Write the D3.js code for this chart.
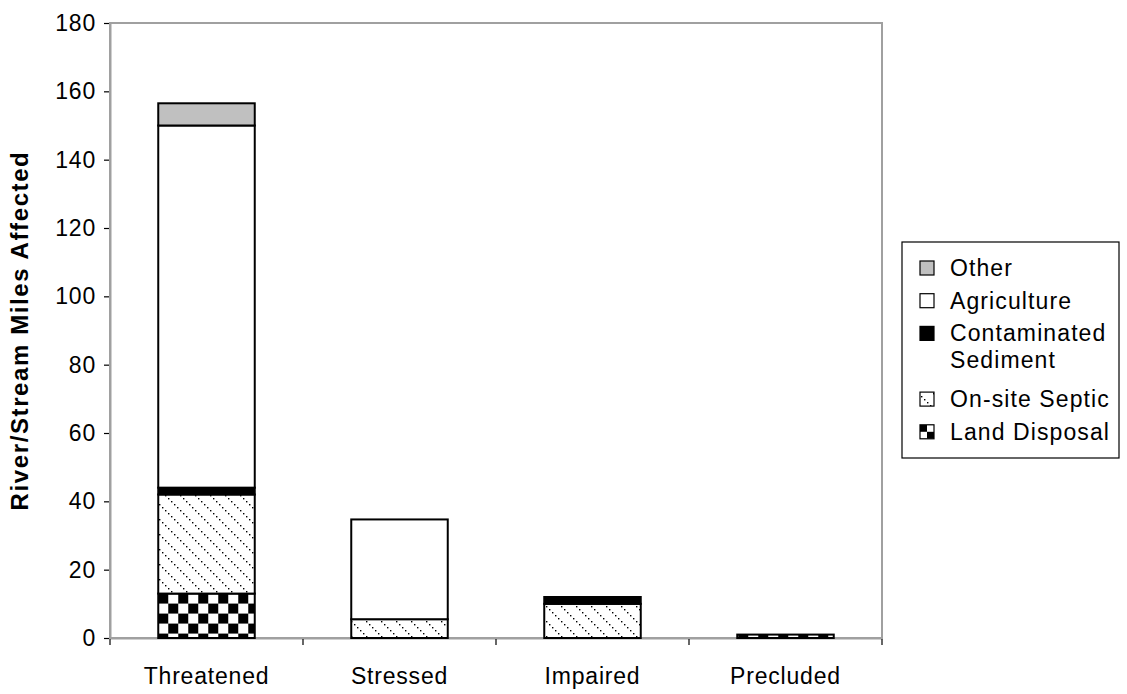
<!DOCTYPE html>
<html><head><meta charset="utf-8">
<script src="https://cdn.jsdelivr.net/npm/d3@7"></script>
<style>body{margin:0;background:#fff} text{font-family:"Liberation Sans",Arial,sans-serif;fill:#000}</style>
</head><body><svg id="c" width="1127" height="694"></svg>
<script>
const categories = ["Threatened", "Stressed", "Impaired", "Precluded"];
const landDisposal = [13, 0, 0, 1];
const onsiteSeptic = [29, 5.5, 10, 0];
const contaminatedSediment = [2, 0, 2, 0];
const agriculture = [106, 29.2, 0, 0];
const other = [6.5, 0, 0, 0];
const yTicks = [0, 20, 40, 60, 80, 100, 120, 140, 160, 180];
const seriesKeys = ["Land Disposal", "On-site Septic", "Contaminated Sediment", "Agriculture", "Other"];
const seriesValues = [landDisposal, onsiteSeptic, contaminatedSediment, agriculture, other];
const legendLabels = {"Other": ["Other"], "Agriculture": ["Agriculture"], "Contaminated Sediment": ["Contaminated", "Sediment"], "On-site Septic": ["On-site Septic"], "Land Disposal": ["Land Disposal"]};
const yTitle = "River/Stream Miles Affected";

const table = categories.map((c, i) => {
  const r = {category: c};
  seriesKeys.forEach((k, j) => r[k] = seriesValues[j][i]);
  return r;
});

const L = 110, R = 882, T = 23, B = 638;
const FONT = '"Liberation Sans",Arial,sans-serif';
const svg = d3.select("#c");
const defs = svg.append("defs");

const x = d3.scaleBand().domain(categories).range([L, R]).paddingInner(0.5).paddingOuter(0.25);
const y = d3.scaleLinear().domain([0, 180]).range([B, T]);

// checker pattern
const chk = defs.append("pattern").attr("id", "checker").attr("patternUnits", "userSpaceOnUse")
  .attr("width", 20).attr("height", 20).attr("x", x(categories[0])).attr("y", y(landDisposal[0]));
chk.append("rect").attr("width", 20).attr("height", 20).attr("fill", "#fff");
chk.append("rect").attr("width", 10).attr("height", 10).attr("fill", "#000");
chk.append("rect").attr("x", 10).attr("y", 10).attr("width", 10).attr("height", 10).attr("fill", "#000");

// legend checker
const chkL = defs.append("pattern").attr("id", "checkerL").attr("patternUnits", "objectBoundingBox")
  .attr("patternContentUnits", "objectBoundingBox").attr("width", 1).attr("height", 1);
chkL.append("rect").attr("width", 1).attr("height", 1).attr("fill", "#fff");
chkL.append("rect").attr("width", 0.5).attr("height", 0.5).attr("fill", "#000");
chkL.append("rect").attr("x", 0.5).attr("y", 0.5).attr("width", 0.5).attr("height", 0.5).attr("fill", "#000");

// dotted diagonal pattern
const dots = defs.append("pattern").attr("id", "dots").attr("patternUnits", "userSpaceOnUse")
  .attr("width", 15).attr("height", 15);
dots.append("rect").attr("width", 15).attr("height", 15).attr("fill", "#fff");
[0, 3, 6, 9, 12].forEach(d => dots.append("rect").attr("x", d).attr("y", d).attr("width", 1.4).attr("height", 1.4).attr("fill", "#000"));

const fills = {"Land Disposal": "url(#checker)", "On-site Septic": "url(#dots)", "Contaminated Sediment": "#000", "Agriculture": "#fff", "Other": "#c0c0c0"};
const legendFills = Object.assign({}, fills, {"Land Disposal": "url(#checkerL)"});

// plot frame
svg.append("rect").attr("x", L).attr("y", T).attr("width", R - L).attr("height", B - T)
  .attr("fill", "none").attr("stroke", "#a0a0a0").attr("stroke-width", 2);

// y axis
const ya = svg.append("g").attr("transform", `translate(${L},0)`)
  .call(d3.axisLeft(y).tickValues(yTicks).tickSize(6).tickPadding(8).tickSizeOuter(0));
ya.select(".domain").attr("stroke", "#a0a0a0").attr("stroke-width", 2);
ya.selectAll(".tick line").attr("stroke", "#000").attr("stroke-width", 1.2).attr("x1", -1);
ya.selectAll(".tick text").style("font-size", "23px").style("font-family", FONT).style("letter-spacing", "0.8px");

// x axis
const step = x.step();
const xa = svg.append("g").attr("transform", `translate(0,${B})`)
  .call(d3.axisBottom(x).tickSize(0).tickPadding(30).tickSizeOuter(0));
xa.select(".domain").attr("stroke", "#a0a0a0").attr("stroke-width", 2);
xa.selectAll(".tick text").style("font-size", "23px").style("font-family", FONT).style("letter-spacing", "0.8px");
xa.selectAll(".bnd").data(d3.range(categories.length + 1)).enter().append("line")
  .attr("x1", i => L + i * step).attr("x2", i => L + i * step)
  .attr("y1", 1).attr("y2", 7).attr("stroke", "#000").attr("stroke-width", 1.2);

// bars
const stacked = d3.stack().keys(seriesKeys)(table);
svg.append("g").selectAll("g").data(stacked).enter().append("g")
  .attr("fill", s => fills[s.key])
  .selectAll("rect").data(s => s.filter(d => d[1] - d[0] > 0)).enter().append("rect")
  .attr("x", d => x(d.data.category)).attr("width", x.bandwidth())
  .attr("y", d => y(d[1])).attr("height", d => y(d[0]) - y(d[1]))
  .attr("stroke", "#000").attr("stroke-width", 2);

// y title
svg.append("text").attr("transform", `translate(28,${(T + B) / 2}) rotate(-90)`)
  .attr("text-anchor", "middle").style("font-size", "24px").style("font-weight", "bold")
  .style("letter-spacing", "1.6px").text(yTitle);

// legend
const lg = svg.append("g");
lg.append("rect").attr("x", 902).attr("y", 242).attr("width", 217).attr("height", 216)
  .attr("fill", "#fff").attr("stroke", "#000").attr("stroke-width", 1.2);
const legendOrder = seriesKeys.slice().reverse();
let cy = 268;
legendOrder.forEach(k => {
  lg.append("rect").attr("x", 920).attr("y", cy - 7).attr("width", 14).attr("height", 14)
    .attr("fill", legendFills[k]).attr("stroke", "#000").attr("stroke-width", 1.2);
  legendLabels[k].forEach((t, i) => {
    lg.append("text").attr("x", 950).attr("y", cy + i * 27).attr("dy", "0.35em")
      .style("font-size", "23px").style("letter-spacing", "1.1px").text(t);
  });
  cy += 32.7 + (legendLabels[k].length - 1) * 33;
});
</script></body></html>
